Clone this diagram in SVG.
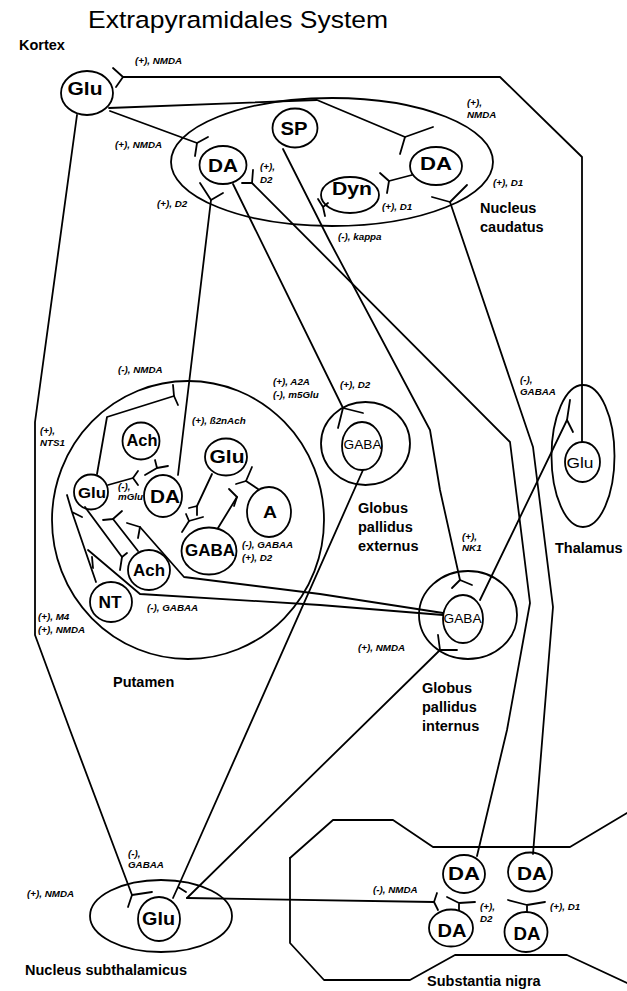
<svg xmlns="http://www.w3.org/2000/svg" width="627" height="991" viewBox="0 0 627 991">
<style>
.n{fill:none;stroke:#000;stroke-width:1.8}
.c{fill:none;stroke:#000;stroke-width:1.8;stroke-linejoin:round;stroke-linecap:round}
.lb{font-family:"Liberation Sans",Arial,sans-serif;font-weight:bold;text-anchor:middle;fill:#000}
.rl{font-family:"Liberation Sans",Arial,sans-serif;text-anchor:middle;fill:#000}
.sm{font-family:"Liberation Sans",Arial,sans-serif;font-style:italic;font-weight:bold;font-size:9.8px;fill:#000}
.rg{font-family:"Liberation Sans",Arial,sans-serif;font-weight:bold;font-size:14.5px;fill:#000}
</style>
<rect width="627" height="991" fill="#fff"/>
<text x="88" y="28" font-family="Liberation Sans, Arial, sans-serif" font-size="24.5" textLength="300" lengthAdjust="spacingAndGlyphs">Extrapyramidales System</text>

<g id="connectors">
<!-- thalamus -> cortex -->
<path class="c" d="M582,442 L582,157 L500,77 L123,77"/>
<path class="c" d="M113,68 L123,77 L116,87"/>
<!-- cortex -> caudatus DA right -->
<path class="c" d="M109,108 L317,100 L405,137"/>
<path class="c" d="M433,127 L405,137 L400,154"/>
<!-- cortex -> caudatus DA left -->
<path class="c" d="M110,111 L197,143"/>
<path class="c" d="M208,137 L197,143 L195,156"/>
<!-- cortex -> STN -->
<path class="c" d="M77,115 L35,422 L35,635 L70,730 L132,895"/>
<path class="c" d="M152,892 L132,895 L128,907"/>
<!-- caudatus DA left -> GPe -->
<path class="c" d="M233,184 L343,408"/>
<path class="c" d="M363,413 L343,408 L338,428"/>
<!-- SN DA1 -> caudatus DA left -->
<path class="c" d="M477,856 L507,730 L530,603 L510,442 L252,183"/>
<path class="c" d="M242,183 L252,183 L253,170"/>
<!-- putamen DA -> caudatus DA left -->
<path class="c" d="M178,475 L211,200"/>
<path class="c" d="M200,183 L211,200 L223,193"/>
<!-- caudatus DA right -> Dyn -->
<path class="c" d="M412,175 L389,181"/>
<path class="c" d="M380,173 L389,181 L387,193"/>
<!-- SN DA2 -> caudatus DA right -->
<path class="c" d="M533,854 L543,730 L553,607 L533,447 L450,202"/>
<path class="c" d="M432,197 L450,202 L467,185"/>
<!-- SP -> GPi -->
<path class="c" d="M283,149 L329,240 L430,430 L440,490 L460,580"/>
<path class="c" d="M452,588 L460,580 L472,585"/>
<!-- kappa -->
<path class="c" d="M318,199 L323,207 L328,203 M323,207 L325,216"/>
<!-- GPi -> thalamus -->
<path class="c" d="M480,600 L567,420"/>
<path class="c" d="M570,400 L567,420 L573,432"/>
<!-- GPe -> STN -->
<path class="c" d="M363,470 L178,887 L173,898 M178,887 L186,892"/>
<!-- STN -> GPi -->
<path class="c" d="M187,898 L440,650"/>
<path class="c" d="M438,635 L440,650 L457,650"/>
<!-- STN -> SN -->
<path class="c" d="M187,898 L434,902"/>
<path class="c" d="M437,893 L434,902 L438,910"/>
<!-- SN internal -->
<path class="c" d="M459,910 L459,903 M447,897 L459,903 L475,902"/>
<path class="c" d="M527,912 L527,905 M508,900 L527,905 L545,902"/>
<!-- putamen internal -->
<path class="c" d="M97,474 L107,417 L174,396"/>
<path class="c" d="M173,385 L174,396 L178,405"/>
<path class="c" d="M155,460 L157,468 M145,475 L157,468 L168,466"/>
<path class="c" d="M108,485 L133,478"/>
<path class="c" d="M138,471 L133,478 L138,485"/>
<path class="c" d="M85,507 L122,557"/>
<path class="c" d="M127,553 L122,557 L120,570"/>
<path class="c" d="M67,495 L72,512 L96,582 M72,512 L82,517"/>
<path class="c" d="M138,551 L113,519"/>
<path class="c" d="M103,520 L113,519 L122,511"/>
<path class="c" d="M140,527 L184,577 L320,594 L443,613"/>
<path class="c" d="M127,523 L140,527 L138,538"/>
<path class="c" d="M88,550 L140,594 L320,605 L443,615"/>
<path class="c" d="M92,557 L93,568"/>
<path class="c" d="M212,474 L197,506"/>
<path class="c" d="M189,508 L197,506 L197,515"/>
<path class="c" d="M186,514 L189,521"/>
<path class="c" d="M182,532 L189,521 L203,517"/>
<path class="c" d="M218,528 L237,497"/>
<path class="c" d="M229,489 L237,497 L234,506"/>
<path class="c" d="M258,489 L246,481"/>
<path class="c" d="M252,467 L246,481 L236,484"/>
<!-- substantia nigra outline -->
<path class="c" d="M290,858 L333,820 L393,820 L433,847 L570,847 L627,813"/>
<path class="c" d="M290,858 L290,943 L324,980 L410,980 L455,955 L567,955 L627,983"/>
</g>

<g id="kortex">
<text class="rg" x="19" y="50">Kortex</text>
<ellipse class="n" cx="87" cy="93" rx="26" ry="22"/>
<text class="lb" x="85" y="95" font-size="18" textLength="35" lengthAdjust="spacingAndGlyphs">Glu</text>
</g>

<g id="nucleus-caudatus">
<ellipse class="n" cx="332" cy="162" rx="161" ry="64"/>
<text class="rg" x="480" y="213">Nucleus</text>
<text class="rg" x="480" y="232">caudatus</text>
</g>
<g id="caudatus-da1"><ellipse class="n" cx="223" cy="165" rx="23.5" ry="19"/><text class="lb" x="223" y="172" font-size="18" textLength="30" lengthAdjust="spacingAndGlyphs">DA</text></g>
<g id="caudatus-sp"><ellipse class="n" cx="295" cy="128" rx="22.5" ry="19.5"/><text class="lb" x="294" y="135" font-size="18" textLength="27" lengthAdjust="spacingAndGlyphs">SP</text></g>
<g id="caudatus-da2"><ellipse class="n" cx="436" cy="166" rx="26" ry="19"/><text class="lb" x="436" y="170" font-size="18" textLength="32" lengthAdjust="spacingAndGlyphs">DA</text></g>
<g id="caudatus-dyn"><ellipse class="n" cx="350" cy="195" rx="29" ry="18"/><text class="lb" x="352" y="195" font-size="18" textLength="40" lengthAdjust="spacingAndGlyphs">Dyn</text></g>

<g id="putamen">
<ellipse class="n" cx="188" cy="520" rx="136" ry="139"/>
<text class="rg" x="113" y="687">Putamen</text>
</g>
<g id="putamen-ach1"><ellipse class="n" cx="141" cy="441" rx="18.5" ry="18.5"/><text class="lb" x="142" y="446" font-size="16" textLength="31" lengthAdjust="spacingAndGlyphs">Ach</text></g>
<g id="putamen-glu1"><ellipse class="n" cx="91" cy="492" rx="17" ry="17.5"/><text class="lb" x="92" y="498" font-size="15" textLength="28" lengthAdjust="spacingAndGlyphs">Glu</text></g>
<g id="putamen-da"><ellipse class="n" cx="163" cy="496" rx="19" ry="21"/><text class="lb" x="165" y="503" font-size="19" textLength="30" lengthAdjust="spacingAndGlyphs">DA</text></g>
<g id="putamen-glu2"><ellipse class="n" cx="226" cy="457" rx="21" ry="18.5"/><text class="lb" x="227" y="463" font-size="18" textLength="35" lengthAdjust="spacingAndGlyphs">Glu</text></g>
<g id="putamen-a"><ellipse class="n" cx="269" cy="512" rx="22" ry="25"/><text class="lb" x="270" y="518" font-size="17" textLength="14" lengthAdjust="spacingAndGlyphs">A</text></g>
<g id="putamen-gaba"><ellipse class="n" cx="209" cy="551" rx="27.5" ry="23.5"/><text class="lb" x="210" y="556" font-size="16.5" textLength="50" lengthAdjust="spacingAndGlyphs">GABA</text></g>
<g id="putamen-ach2"><ellipse class="n" cx="149" cy="570" rx="21" ry="20"/><text class="lb" x="149" y="576" font-size="16" textLength="32" lengthAdjust="spacingAndGlyphs">Ach</text></g>
<g id="putamen-nt"><ellipse class="n" cx="111" cy="602" rx="21" ry="20"/><text class="lb" x="110" y="608" font-size="17" textLength="23" lengthAdjust="spacingAndGlyphs">NT</text></g>

<g id="globus-pallidus-externus">
<ellipse class="n" cx="365.5" cy="443.5" rx="44.5" ry="41.5"/>
<ellipse class="n" cx="362" cy="446" rx="20" ry="24"/>
<text class="rl" x="362.5" y="449" font-size="13.5" textLength="38" lengthAdjust="spacingAndGlyphs">GABA</text>
<text class="rg" x="358" y="513">Globus</text>
<text class="rg" x="358" y="532">pallidus</text>
<text class="rg" x="358" y="551">externus</text>
</g>

<g id="globus-pallidus-internus">
<ellipse class="n" cx="468" cy="615" rx="49" ry="44"/>
<ellipse class="n" cx="463" cy="619" rx="20" ry="24"/>
<text class="rl" x="462.5" y="623" font-size="13.5" textLength="38" lengthAdjust="spacingAndGlyphs">GABA</text>
<text class="rg" x="422" y="693">Globus</text>
<text class="rg" x="422" y="712">pallidus</text>
<text class="rg" x="422" y="731">internus</text>
</g>

<g id="thalamus">
<ellipse class="n" cx="583" cy="456" rx="31.5" ry="71"/>
<ellipse class="n" cx="582.5" cy="462" rx="17.5" ry="20"/>
<text class="rl" x="580" y="468" font-size="15" textLength="27" lengthAdjust="spacingAndGlyphs">Glu</text>
<text class="rg" x="555" y="553">Thalamus</text>
</g>

<g id="nucleus-subthalamicus">
<ellipse class="n" cx="161" cy="916" rx="71" ry="36"/>
<ellipse class="n" cx="159" cy="919" rx="21" ry="22"/>
<text class="lb" x="158.5" y="925" font-size="18" textLength="33" lengthAdjust="spacingAndGlyphs">Glu</text>
<text class="rg" x="25" y="975">Nucleus subthalamicus</text>
</g>

<g id="substantia-nigra">
<text class="rg" x="427" y="986">Substantia nigra</text>
</g>
<g id="sn-da1"><ellipse class="n" cx="464" cy="874" rx="21" ry="19"/><text class="lb" x="464" y="880" font-size="18" textLength="32" lengthAdjust="spacingAndGlyphs">DA</text></g>
<g id="sn-da2"><ellipse class="n" cx="530" cy="872" rx="22" ry="19.5"/><text class="lb" x="532" y="880" font-size="18" textLength="30" lengthAdjust="spacingAndGlyphs">DA</text></g>
<g id="sn-da3"><ellipse class="n" cx="451" cy="928" rx="22" ry="18.5"/><text class="lb" x="452" y="937" font-size="18" textLength="29" lengthAdjust="spacingAndGlyphs">DA</text></g>
<g id="sn-da4"><ellipse class="n" cx="526" cy="932" rx="21.5" ry="20"/><text class="lb" x="527" y="940" font-size="18" textLength="27" lengthAdjust="spacingAndGlyphs">DA</text></g>

<g id="labels">
<text class="sm" x="135" y="64">(+), NMDA</text>
<text class="sm" x="115" y="148">(+), NMDA</text>
<text class="sm" x="260" y="170">(+),</text>
<text class="sm" x="260" y="183">D2</text>
<text class="sm" x="157" y="207">(+), D2</text>
<text class="sm" x="467" y="106">(+),</text>
<text class="sm" x="467" y="118">NMDA</text>
<text class="sm" x="493" y="186">(+), D1</text>
<text class="sm" x="382" y="210">(+), D1</text>
<text class="sm" x="338" y="240">(-), kappa</text>
<text class="sm" x="118" y="373">(-), NMDA</text>
<text class="sm" x="273" y="385">(+), A2A</text>
<text class="sm" x="273" y="398">(-), m5Glu</text>
<text class="sm" x="340" y="388">(+), D2</text>
<text class="sm" x="520" y="383">(-),</text>
<text class="sm" x="520" y="395">GABAA</text>
<text class="sm" x="40" y="434">(+),</text>
<text class="sm" x="40" y="446">NTS1</text>
<text class="sm" x="192" y="424">(+), ß2nAch</text>
<text class="sm" x="118" y="490" font-size="7.5">(-),</text>
<text class="sm" x="118" y="500" font-size="7.5">mGlu</text>
<text class="sm" x="242" y="548">(-), GABAA</text>
<text class="sm" x="242" y="561">(+), D2</text>
<text class="sm" x="147" y="611">(-), GABAA</text>
<text class="sm" x="38" y="620">(+), M4</text>
<text class="sm" x="38" y="633">(+), NMDA</text>
<text class="sm" x="462" y="540">(+),</text>
<text class="sm" x="462" y="551">NK1</text>
<text class="sm" x="358" y="651">(+), NMDA</text>
<text class="sm" x="128" y="857">(-),</text>
<text class="sm" x="128" y="868">GABAA</text>
<text class="sm" x="27" y="897">(+), NMDA</text>
<text class="sm" x="373" y="893">(-), NMDA</text>
<text class="sm" x="480" y="910">(+),</text>
<text class="sm" x="480" y="922">D2</text>
<text class="sm" x="550" y="910">(+), D1</text>
</g>
</svg>
